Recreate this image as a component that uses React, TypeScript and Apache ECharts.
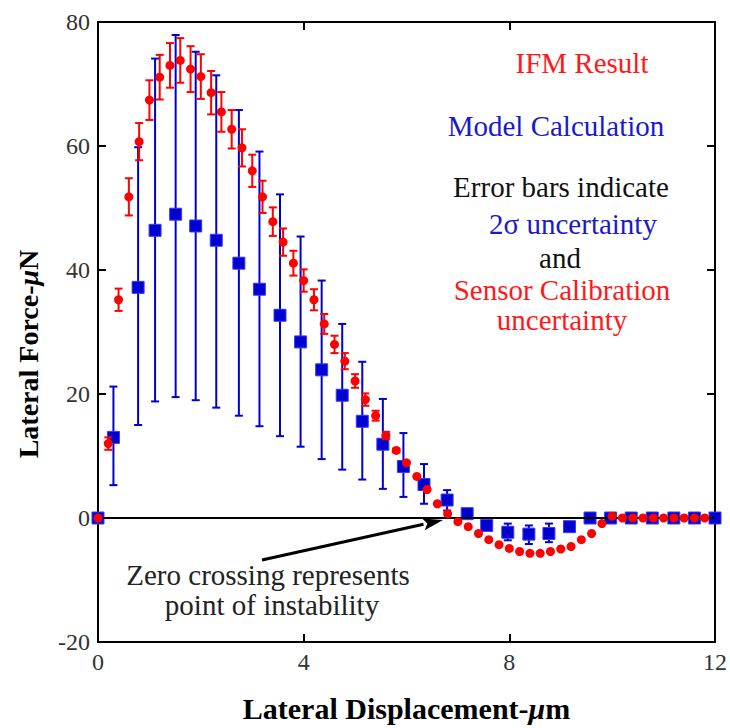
import React, { useEffect, useRef } from "react";
import * as echarts from "echarts";

// IFM Result (red)
const redX = [0, 0.2, 0.4, 0.6, 0.8, 1.0, 1.2, 1.4, 1.6, 1.8, 2.0, 2.2, 2.4, 2.6, 2.8, 3.0, 3.2, 3.4, 3.6, 3.8, 4.0, 4.2, 4.4, 4.6, 4.8, 5.0, 5.2, 5.4, 5.6, 5.8, 6.0, 6.2, 6.4, 6.6, 6.8, 7.0, 7.2, 7.4, 7.6, 7.8, 8.0, 8.2, 8.4, 8.6, 8.8, 9.0, 9.2, 9.4, 9.6, 9.8, 10.0, 10.2, 10.4, 10.6, 10.8, 11.0, 11.2, 11.4, 11.6, 11.8];
const redY = [0, 12.0, 35.2, 51.8, 60.7, 67.4, 71.1, 73.0, 73.8, 72.4, 71.2, 68.6, 65.5, 62.7, 59.7, 56.0, 51.8, 47.8, 44.5, 41.1, 38.3, 35.2, 31.3, 28.0, 25.3, 22.1, 19.1, 16.5, 13.3, 10.9, 8.9, 6.7, 4.6, 2.3, 0.7, -0.6, -1.4, -2.5, -3.5, -4.3, -4.9, -5.4, -5.7, -5.7, -5.4, -5.0, -4.6, -3.5, -2.5, -0.9, 0.3, 0, 0, 0, 0, 0, 0, 0, 0, 0];
const redErr = [0, 1.0, 1.8, 3.0, 3.0, 3.2, 3.6, 3.6, 3.6, 3.7, 3.6, 3.5, 3.2, 3.1, 3.0, 2.6, 2.6, 2.3, 2.2, 2.0, 1.8, 1.7, 1.6, 1.4, 1.3, 1.1, 1.0, 0.8, 0.6, 0.3, 0, 0, 0, 0, 0, 0, 0, 0, 0, 0, 0, 0, 0, 0, 0, 0, 0, 0, 0, 0, 0, 0, 0, 0, 0, 0, 0, 0, 0, 0];

// Model Calculation (blue)
const blueX = [0, 0.3, 0.78, 1.11, 1.51, 1.9, 2.3, 2.74, 3.14, 3.54, 3.94, 4.35, 4.75, 5.14, 5.54, 5.94, 6.34, 6.79, 7.18, 7.56, 7.97, 8.38, 8.77, 9.17, 9.57, 9.97, 10.37, 10.78, 11.2, 11.6, 12.0];
const blueY = [0, 13.0, 37.2, 46.4, 49.0, 47.1, 44.8, 41.1, 36.9, 32.7, 28.4, 23.9, 19.8, 15.6, 11.9, 8.3, 5.4, 2.9, 0.7, -1.2, -2.3, -2.6, -2.5, -1.4, 0, 0, 0, 0, 0, 0, 0];
const blueLo = [null, 5.3, 15.0, 18.8, 19.5, 19.0, 17.8, 16.5, 14.8, 13.2, 11.5, 9.5, 7.8, 6.2, 4.7, 3.4, 2.3, 1.2, null, null, -3.6, -4.2, -3.9, null, null, null, null, null, null, null, null];
const blueHi = [null, 21.2, 59.8, 74.1, 77.9, 75.2, 71.4, 65.8, 59.1, 52.2, 45.4, 38.3, 31.3, 25.2, 19.2, 13.7, 8.7, 4.5, null, null, -0.9, -1.2, -0.9, null, null, null, null, null, null, null, null];

const xTicks = { min: 0, max: 12, interval: 4 };
const yTicks = { min: -20, max: 80, interval: 20 };

const RED = "#ff0000";
const BLUE = "#0000d0";
const SERIF = '"Liberation Serif", "Times New Roman", serif';

function errRender(color: string) {
  return (params: any, api: any) => {
    const x = api.value(0);
    const lo = api.value(1);
    const hi = api.value(2);
    const a = api.coord([x, hi]);
    const b = api.coord([x, lo]);
    const w = 4;
    const style = { stroke: color, lineWidth: 2 };
    return {
      type: "group",
      children: [
        { type: "line", shape: { x1: a[0], y1: a[1], x2: b[0], y2: b[1] }, style },
        { type: "line", shape: { x1: a[0] - w, y1: a[1], x2: a[0] + w, y2: a[1] }, style },
        { type: "line", shape: { x1: b[0] - w, y1: b[1], x2: b[0] + w, y2: b[1] }, style },
      ],
    };
  };
}

export default function App() {
  const ref = useRef<HTMLDivElement>(null);
  useEffect(() => {
    if (!ref.current) return;
    const chart = echarts.init(ref.current, null, { renderer: "svg" });

    const redPts = redX.map((x, i) => [x, redY[i]]);
    const redErrData = redX
      .map((x, i) => [x, redY[i] - redErr[i], redY[i] + redErr[i], redErr[i]])
      .filter((d) => d[3] > 0.25);
    const bluePts = blueX.map((x, i) => [x, blueY[i]]);
    const blueErrData = blueX
      .map((x, i) => [x, blueLo[i], blueHi[i]])
      .filter((d) => d[1] !== null && d[2] !== null);

    const axisLine = { show: true, onZero: false, lineStyle: { color: "#000", width: 2 } };
    const axisTick = { show: true, inside: true, length: 8, lineStyle: { color: "#000", width: 2 } };
    const labelStyle = { fontFamily: SERIF, fontSize: 24, color: "#333" };
    const titleRich = (size: number) => ({
      b: { fontFamily: SERIF, fontSize: size, fontWeight: "bold", color: "#000" },
      i: { fontFamily: SERIF, fontSize: size, fontWeight: "bold", fontStyle: "italic", color: "#000" },
    });

    const txt = (text: string, x: number, y: number, fill: string) => ({
      type: "text",
      x,
      y,
      z: 100,
      style: { text, fill, font: `29px ${SERIF}`, align: "center", verticalAlign: "middle" },
    });

    // arrow geometry (annotation)
    const tail = [262, 560];
    const tip = [443, 520];
    const dx = tip[0] - tail[0];
    const dy = tip[1] - tail[1];
    const len = Math.sqrt(dx * dx + dy * dy);
    const ux = dx / len, uy = dy / len;
    const nx = -uy, ny = ux;
    const hl = 20, hw = 6;
    const bx = tip[0] - hl * ux, by = tip[1] - hl * uy;

    chart.setOption({
      animation: false,
      backgroundColor: "#fff",
      grid: { left: 98, top: 22, right: 9, bottom: 82, containLabel: false },
      xAxis: [
        {
          type: "value",
          ...xTicks,
          position: "bottom",
          axisLine,
          axisTick,
          splitLine: { show: false },
          axisLabel: { ...labelStyle, margin: 8 },
          name: "{b|Lateral Displacement-}{i|μ}{b|m}",
          nameLocation: "middle",
          nameGap: 51,
          nameTextStyle: { fontSize: 30, fontFamily: SERIF, fontWeight: "bold", rich: titleRich(30) },
        },
        {
          type: "value",
          ...xTicks,
          position: "top",
          axisLine,
          axisTick,
          splitLine: { show: false },
          axisLabel: { show: false },
        },
      ],
      yAxis: [
        {
          type: "value",
          ...yTicks,
          position: "left",
          axisLine,
          axisTick,
          splitLine: { show: false },
          axisLabel: { ...labelStyle, margin: 8 },
        },
        {
          type: "value",
          ...yTicks,
          position: "right",
          axisLine,
          axisTick,
          splitLine: { show: false },
          axisLabel: { show: false },
        },
      ],
      series: [
        {
          type: "line",
          data: [],
          markLine: {
            silent: true,
            symbol: "none",
            label: { show: false },
            lineStyle: { color: "#000", width: 2, type: "solid" },
            data: [{ yAxis: 0 }],
          },
          z: 1,
        },
        {
          type: "custom",
          renderItem: errRender(BLUE),
          data: blueErrData,
          encode: { x: 0, y: [1, 2] },
          z: 2,
        },
        {
          type: "scatter",
          data: bluePts,
          symbol: "rect",
          symbolSize: 12,
          itemStyle: { color: BLUE, borderColor: "#3a3aff", borderWidth: 1, opacity: 1 },
          z: 3,
        },
        {
          type: "custom",
          renderItem: errRender(RED),
          data: redErrData,
          encode: { x: 0, y: [1, 2] },
          z: 4,
        },
        {
          type: "scatter",
          data: redPts,
          symbol: "circle",
          symbolSize: 9,
          itemStyle: { color: RED, opacity: 1 },
          z: 5,
        },
      ],
      graphic: [
        {
          type: "text",
          x: 28,
          y: 354,
          rotation: Math.PI / 2,
          z: 100,
          style: {
            text: "{b|Lateral Force-}{i|μ}{b|N}",
            rich: titleRich(28),
            font: `bold 28px ${SERIF}`,
            align: "center",
            verticalAlign: "middle",
          },
        },
        txt("IFM Result", 582, 63, "#ff1a1a"),
        txt("Model Calculation", 556, 126, "#1a1acc"),
        txt("Error bars indicate", 561, 187, "#111"),
        txt("2σ uncertainty", 573, 224, "#1a1acc"),
        txt("and", 560, 258, "#111"),
        txt("Sensor Calibration", 562, 290, "#ff1a1a"),
        txt("uncertainty", 562, 320, "#ff1a1a"),
        txt("Zero crossing represents", 268, 575, "#222"),
        txt("point of instability", 272, 605, "#222"),
        {
          type: "line",
          z: 100,
          shape: { x1: tail[0], y1: tail[1], x2: bx, y2: by },
          style: { stroke: "#000", lineWidth: 3 },
        },
        {
          type: "polygon",
          z: 100,
          shape: {
            points: [
              [tip[0], tip[1]],
              [bx + hw * nx, by + hw * ny],
              [bx + 4 * ux, by + 4 * uy],
              [bx - hw * nx, by - hw * ny],
            ],
          },
          style: { fill: "#000" },
        },
      ],
    });
    return () => chart.dispose();
  }, []);
  return (
    <div
      ref={ref}
      style={{ position: "fixed", left: 0, top: 0, width: 730, height: 728, background: "#fff" }}
    />
  );
}
